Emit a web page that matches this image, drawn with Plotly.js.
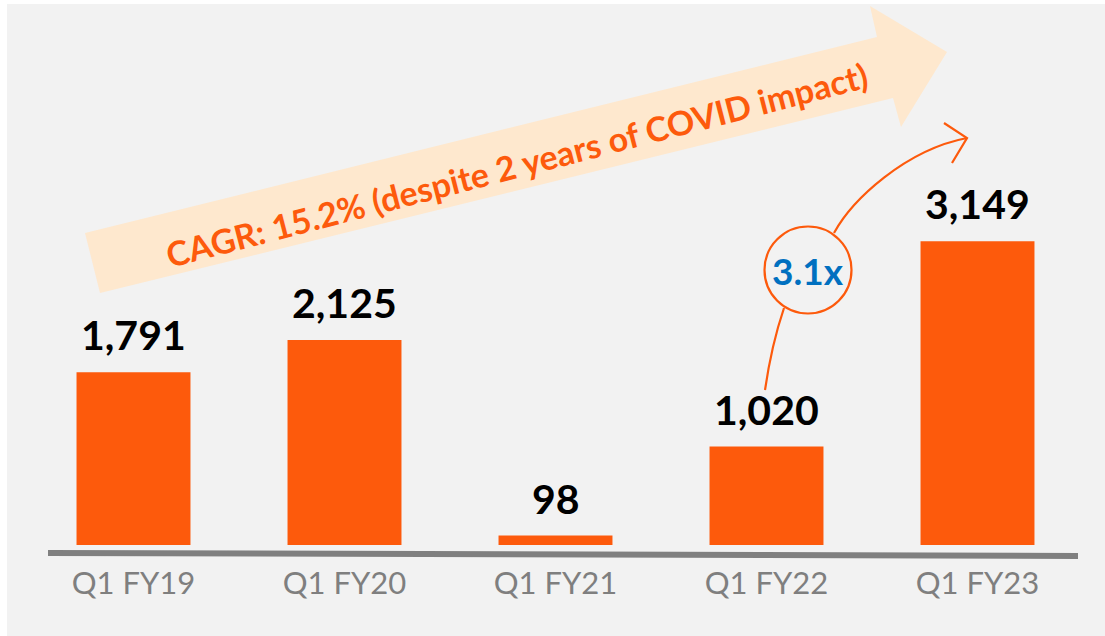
<!DOCTYPE html>
<html>
<head>
<meta charset="utf-8">
<script src="https://cdn.plot.ly/plotly-3.0.1.min.js"></script>
<style>html,body{margin:0;padding:0;background:#fff;}#chart{width:1105px;height:636px;}</style>
</head>
<body>
<div id="chart"></div>
<script>
// ---- data ----
const categories = ["Q1 FY19", "Q1 FY20", "Q1 FY21", "Q1 FY22", "Q1 FY23"];
const values = [1791, 2125, 98, 1020, 3149];
const valueLabels = ["1,791", "2,125", "98", "1,020", "3,149"];
const cagrText = "CAGR: 15.2% (despite 2 years of COVID impact)";
const multipleText = "3.1x";

// ---- layout geometry ----
const W = 1105, H = 636;
const ML = 28, MR = 22, MT = 20, MB = 76;
const PW = W - ML - MR, PH = H - MT - MB;
const PB = H - MB; // plot bottom px
const px = x => (x - ML) / PW;
const py = y => (PB - y) / PH;
const P = (x, y) => px(x).toFixed(5) + "," + py(y).toFixed(5);

const ORANGE = "#FD5A0C";
const PEACH = "#FEE8CE";
const font = "Lato, 'Open Sans', 'Noto Sans', sans-serif";

const trace = {
  type: "bar",
  x: categories,
  y: values,
  marker: {color: ORANGE, line: {width: 0}},
  width: 0.54,
  hoverinfo: "skip"
};

const annotations = categories.map((c, i) => ({
  x: c, y: values[i], xref: "x", yref: "y",
  text: valueLabels[i], showarrow: false,
  yanchor: "bottom", yshift: 11,
  font: {family: font, size: 41, color: "#000000", weight: 700}
}));

annotations.push({
  xref: "paper", yref: "paper", x: px(516), y: py(164),
  text: cagrText, showarrow: false, textangle: -14.5,
  xanchor: "center", yanchor: "middle",
  font: {family: font, size: 34, color: ORANGE, weight: 700}
});
annotations.push({
  xref: "paper", yref: "paper", x: px(808), y: py(270),
  text: multipleText, showarrow: false,
  xanchor: "center", yanchor: "middle",
  font: {family: font, size: 37, color: "#0070C0", weight: 700}
});

const shapes = [
  // white margins of the slide
  {type: "rect", xref: "paper", yref: "paper", x0: px(0), x1: px(7), y0: py(H), y1: py(0), fillcolor: "#ffffff", line: {width: 0}, layer: "below"},
  {type: "rect", xref: "paper", yref: "paper", x0: px(0), x1: px(W), y0: py(4), y1: py(0), fillcolor: "#ffffff", line: {width: 0}, layer: "below"},
  // big CAGR arrow
  {type: "path", xref: "paper", yref: "paper", layer: "below",
   path: "M" + P(85,233) + " L" + P(877,37) + " L" + P(870,6) + " L" + P(947,52) + " L" + P(901,127) + " L" + P(893,98) + " L" + P(100,293) + " Z",
   fillcolor: PEACH, line: {width: 0}},
  // axis baseline
  {type: "line", xref: "paper", yref: "paper", x0: px(48), x1: px(1078), y0: py(553), y1: py(556),
   line: {color: "#808080", width: 6}},
  // circle
  {type: "circle", xref: "paper", yref: "paper", x0: px(764.5), x1: px(851.5), y0: py(313.5), y1: py(226.5),
   line: {color: ORANGE, width: 2.2}, fillcolor: "rgba(0,0,0,0)"},
  // curved arrow lower segment
  {type: "path", xref: "paper", yref: "paper",
   path: "M" + P(765,390) + " Q" + P(771.5,345) + " " + P(784,308),
   line: {color: ORANGE, width: 2.2}},
  // curved arrow upper segment
  {type: "path", xref: "paper", yref: "paper",
   path: "M" + P(834,233) + " C" + P(852,200) + " " + P(905,150) + " " + P(967,138),
   line: {color: ORANGE, width: 2.2}},
  // arrow head
  {type: "path", xref: "paper", yref: "paper",
   path: "M" + P(944,123) + " L" + P(967,138) + " L" + P(952,163),
   line: {color: ORANGE, width: 2.2}}
];

const layout = {
  width: W, height: H,
  margin: {l: ML, r: MR, t: MT, b: MB, pad: 0},
  paper_bgcolor: "#F2F2F2",
  plot_bgcolor: "rgba(0,0,0,0)",
  showlegend: false,
  xaxis: {
    type: "category", range: [-0.5, 4.5], fixedrange: true,
    showgrid: false, zeroline: false, showline: false, ticks: "",
    tickfont: {family: font, size: 31, color: "#7F7F7F"},
    ticklabelstandoff: 2
  },
  yaxis: {
    range: [-155, 5441], visible: false, fixedrange: true,
    showgrid: false, zeroline: false
  },
  annotations: annotations,
  shapes: shapes
};

Plotly.newPlot("chart", [trace], layout, {displayModeBar: false, staticPlot: true});
</script>
</body>
</html>
